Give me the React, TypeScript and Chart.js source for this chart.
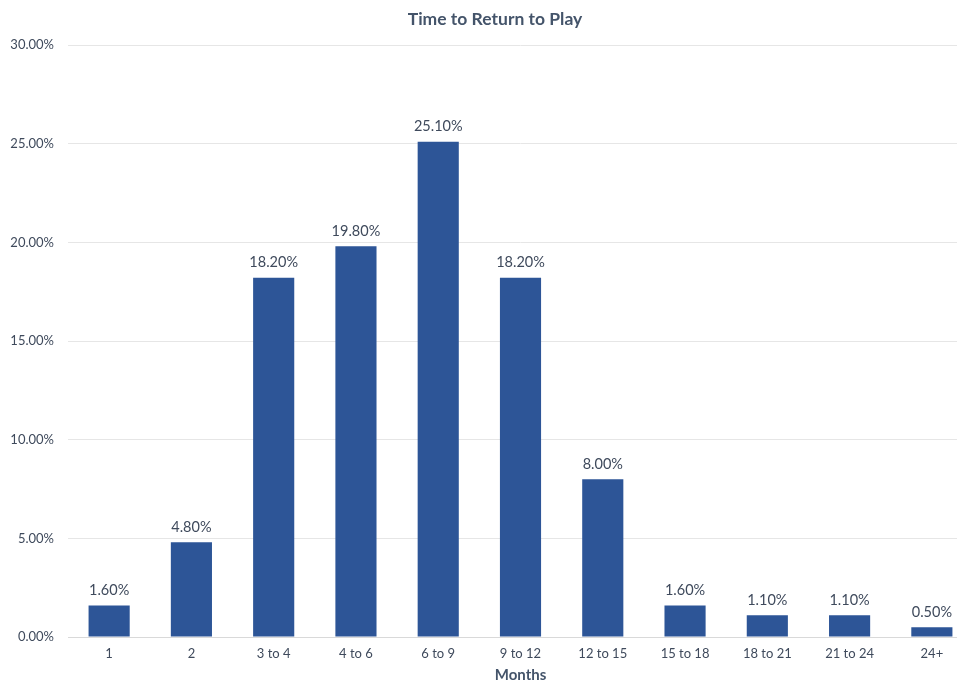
import React, { useEffect, useRef } from "react";
import { Chart, registerables } from "chart.js";

Chart.register(...registerables);

const categories = ["1", "2", "3 to 4", "4 to 6", "6 to 9", "9 to 12", "12 to 15", "15 to 18", "18 to 21", "21 to 24", "24+"];
const percentValues = [1.6, 4.8, 18.2, 19.8, 25.1, 18.2, 8.0, 1.6, 1.1, 1.1, 0.5];
const chartTitle = "Time to Return to Play";
const xAxisTitle = "Months";

const FONT = "Lato, 'Open Sans', sans-serif";
const TEXT = "#3f4a5c";
const TITLE_COLOR = "#44546a";
const BAR = "#2d5597";

const valueLabelPlugin = {
  id: "valueLabels",
  afterDatasetsDraw(chart: any) {
    const ctx = chart.ctx;
    const meta = chart.getDatasetMeta(0);
    ctx.save();
    ctx.font = `14.5px ${FONT}`;
    ctx.fillStyle = TEXT;
    ctx.textAlign = "center";
    ctx.textBaseline = "bottom";
    meta.data.forEach((bar: any, i: number) => {
      const v = chart.data.datasets[0].data[i] as number;
      ctx.fillText(v.toFixed(2) + "%", bar.x, bar.y - 8);
    });
    ctx.restore();
  },
};

const titlePlugin = {
  id: "chartTitleText",
  afterDraw(chart: any) {
    const ctx = chart.ctx;
    ctx.save();
    ctx.font = `bold 17.5px ${FONT}`;
    ctx.fillStyle = TITLE_COLOR;
    ctx.textAlign = "center";
    ctx.textBaseline = "middle";
    ctx.fillText(chartTitle, 495, 19);
    ctx.restore();
  },
};

export default function App() {
  const ref = useRef<HTMLCanvasElement | null>(null);
  useEffect(() => {
    if (!ref.current) return;
    const chart = new Chart(ref.current, {
      type: "bar",
      data: {
        labels: categories,
        datasets: [
          {
            data: percentValues,
            backgroundColor: BAR,
            categoryPercentage: 1,
            barPercentage: 0.5,
          },
        ],
      },
      options: {
        responsive: false,
        animation: false,
        layout: { padding: { left: 0, right: 17, top: 45, bottom: 0 } },
        plugins: {
          legend: { display: false },
          tooltip: { enabled: false },
          title: { display: false },
        },
        scales: {
          x: {
            grid: { display: false, drawTicks: false },
            border: { display: true, color: "#d9d9d9", width: 1 },
            ticks: { color: TEXT, font: { family: FONT, size: 13 }, padding: 9, maxRotation: 0, autoSkip: false },
            title: {
              display: true,
              text: xAxisTitle,
              color: TITLE_COLOR,
              font: { family: FONT, size: 15, weight: "bold" },
              padding: { top: 4, bottom: 0 },
            },
            afterFit(scale: any) {
              scale.height = 47;
            },
          },
          y: {
            min: 0,
            max: 30,
            ticks: {
              stepSize: 5,
              color: TEXT,
              font: { family: FONT, size: 13 },
              padding: 14,
              callback: (v: any) => Number(v).toFixed(2) + "%",
            },
            grid: { color: "#e6e6e6", drawTicks: false },
            border: { display: false },
            afterFit(scale: any) {
              scale.width = 68;
            },
          },
        },
      },
      plugins: [valueLabelPlugin, titlePlugin],
    });
    return () => chart.destroy();
  }, []);
  return (
    <div style={{ position: "fixed", left: 0, top: 0, width: 957, height: 684, overflow: "hidden", background: "#fff" }}>
      <canvas ref={ref} width={990} height={684} style={{ width: 990, height: 684, display: "block" }} />
    </div>
  );
}
